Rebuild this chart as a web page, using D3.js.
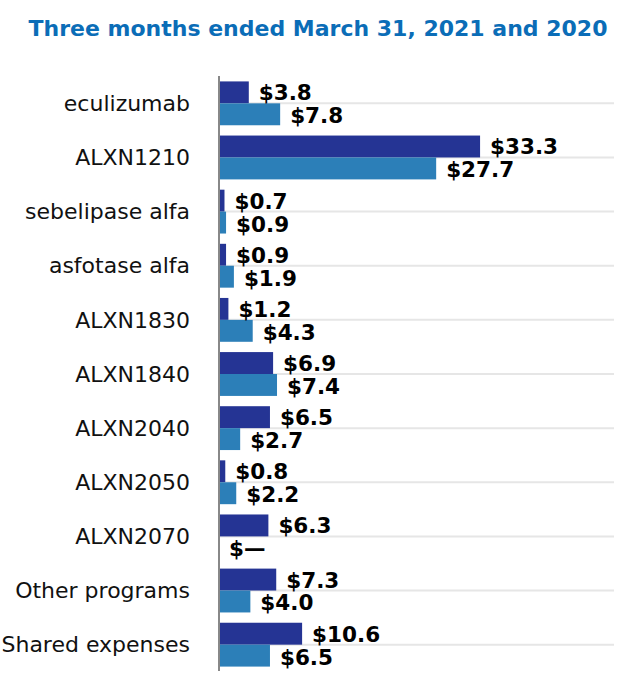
<!DOCTYPE html>
<html lang="en">
<head>
    <meta charset="UTF-8">
    <title>R&amp;D expense by program</title>
    <script src="https://d3js.org/d3.v7.min.js"></script>
    <style type="text/css">
    body { margin: 0; background: #fff; }
    text { font-family: "DejaVu Sans", sans-serif; }
    </style>
</head>
<body>
<script>
// programs, top to bottom
var programs = ["eculizumab", "ALXN1210", "sebelipase alfa", "asfotase alfa", "ALXN1830",
  "ALXN1840", "ALXN2040", "ALXN2050", "ALXN2070", "Other programs", "Shared expenses"];
// $ millions, three months ended March 31
var values2021 = [3.8, 33.3, 0.7, 0.9, 1.2, 6.9, 6.5, 0.8, 6.3, 7.3, 10.6];
var values2020 = [7.8, 27.7, 0.9, 1.9, 4.3, 7.4, 2.7, 2.2, 0, 4.0, 6.5];

var width = 634, height = 692;

var svg = d3.select("body")
  .append("svg")
  .attr("width", width)
  .attr("height", height);

// title
svg.append("text")
  .attr("x", 318)
  .attr("y", 36)
  .attr("text-anchor", "middle")
  .style("font-size", "22px")
  .style("font-weight", "bold")
  .style("fill", "#0b6db7")
  .text("Three months ended March 31, 2021 and 2020");

var x = d3.scaleLinear()
  .domain([0, 50])
  .range([219, 611]);

var y = d3.scaleBand()
  .domain(programs)
  .range([76, 672])
  .paddingInner(0.19)
  .paddingOuter(0.1);

var rows = programs.map(function(p, i) {
  return { name: p, v21: values2021[i], v20: values2020[i] };
});

// gridlines through the middle of each group
svg.selectAll("line.grid")
  .data(rows)
  .enter()
  .append("line")
  .attr("class", "grid")
  .attr("x1", x(0))
  .attr("x2", 614)
  .attr("y1", function(d) { return y(d.name) + y.bandwidth() / 2; })
  .attr("y2", function(d) { return y(d.name) + y.bandwidth() / 2; })
  .style("stroke", "#e6e6e6")
  .style("stroke-width", 2);

var half = y.bandwidth() / 2;

// 2021 bars (dark)
svg.selectAll("rect.b21")
  .data(rows)
  .enter()
  .append("rect")
  .attr("class", "b21")
  .attr("x", x(0))
  .attr("y", function(d) { return y(d.name); })
  .attr("width", function(d) { return x(d.v21) - x(0); })
  .attr("height", half)
  .style("fill", "#253494");

// 2020 bars (light)
svg.selectAll("rect.b20")
  .data(rows)
  .enter()
  .append("rect")
  .attr("class", "b20")
  .attr("x", x(0))
  .attr("y", function(d) { return y(d.name) + half; })
  .attr("width", function(d) { return x(d.v20) - x(0); })
  .attr("height", half)
  .style("fill", "#2c7fb8");

function fmt(v) { return v === 0 ? "$\u2014" : "$" + v.toFixed(1); }

svg.selectAll("text.l21")
  .data(rows)
  .enter()
  .append("text")
  .attr("class", "l21")
  .attr("x", function(d) { return x(d.v21) + 10; })
  .attr("y", function(d) { return y(d.name) + half - 3; })
  .style("font-size", "21.5px")
  .style("font-weight", "bold")
  .text(function(d) { return fmt(d.v21); });

svg.selectAll("text.l20")
  .data(rows)
  .enter()
  .append("text")
  .attr("class", "l20")
  .attr("x", function(d) { return x(d.v20) + 10; })
  .attr("y", function(d) { return y(d.name) + 2 * half - 2; })
  .style("font-size", "21.5px")
  .style("font-weight", "bold")
  .text(function(d) { return fmt(d.v20); });

// category labels
svg.selectAll("text.cat")
  .data(rows)
  .enter()
  .append("text")
  .attr("class", "cat")
  .attr("x", 190)
  .attr("y", function(d) { return y(d.name) + half; })
  .attr("dy", "0.35em")
  .attr("text-anchor", "end")
  .style("font-size", "22px")
  .style("fill", "#111")
  .text(function(d) { return d.name; });

// vertical axis line
svg.append("line")
  .attr("x1", x(0))
  .attr("x2", x(0))
  .attr("y1", 76)
  .attr("y2", 671)
  .style("stroke", "#888")
  .style("stroke-width", 2);
</script>
</body>
</html>
